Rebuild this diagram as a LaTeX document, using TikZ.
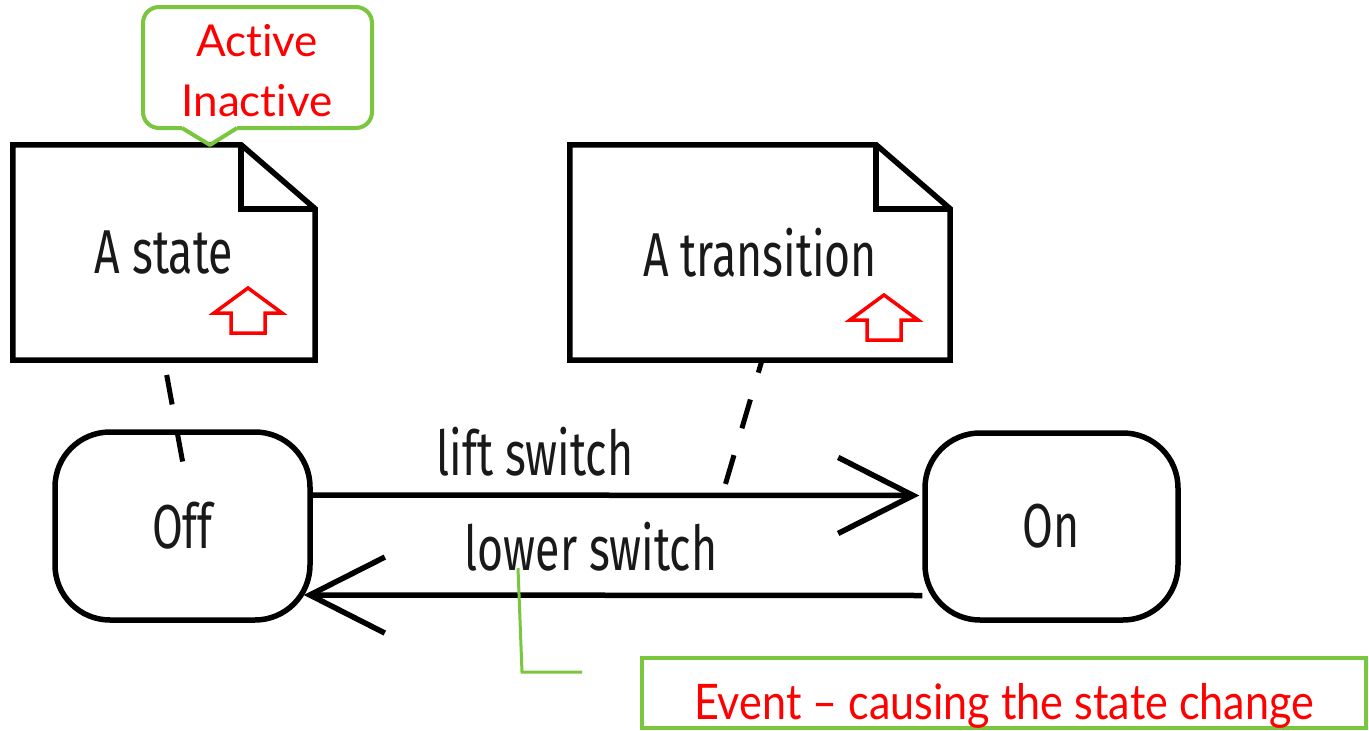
\documentclass[tikz,border=0pt]{standalone}
\usepackage{fontspec}
\usetikzlibrary{arrows.meta}

\newfontfamily\umlfont[FakeStretch=0.72]{Fira Sans}
\newfontfamily\notefont[Ligatures=NoCommon]{Lato}
\newfontfamily\eventfont[Ligatures=NoCommon,FakeStretch=0.88]{Lato}
\definecolor{verde}{RGB}{122,198,62}
\definecolor{rojo}{RGB}{255,0,0}
\definecolor{tinta}{RGB}{25,25,25}

% Hoja con esquina doblada alrededor de un nodo
\newcommand\dogear[1]{%
  \draw[noteline] (#1.south west) -- (#1.north west) -- ([xshift=-74pt]#1.north east)
    -- ([yshift=-64pt]#1.north east) -- (#1.south east) -- cycle;
  \draw[noteline] ([xshift=-74pt]#1.north east) |- ([yshift=-64pt]#1.north east);
}
% Flecha roja hacia arriba (punta en #1,#2)
\newcommand\upmark[2]{%
  \draw[redmark] (#1,#2) -- ++(34,25) -- ++(-17,0) -- ++(0,20) -- ++(-34,0)
    -- ++(0,-20) -- ++(-17,0) -- cycle;
}

\begin{document}
\begin{tikzpicture}[x=1pt,y=-1pt,
  umltext/.style={font=\umlfont\fontsize{62}{62}\selectfont, text=tinta},
  state/.style={draw=black, line width=5.5pt, rounded corners=55pt, umltext},
  notebox/.style={minimum height=215pt, inner sep=0pt, umltext},
  noteline/.style={line width=5.5pt, line join=miter},
  notelink/.style={line width=5pt, dash pattern=on 30pt off 28pt},
  trans/.style={line width=5.5pt, -{Straight Barb[length=75pt,width=76pt]}},
  redmark/.style={draw=rojo, line width=3.5pt},
  callout/.style={draw=verde, line width=4pt, rounded corners=16pt},
  calltext/.style={font=\notefont\fontsize{44}{60}\selectfont, text=rojo, align=center},
  eventbox/.style={draw=verde, line width=4pt, minimum width=724pt, minimum height=70pt,
    text height=52pt, text depth=0pt, font=\eventfont\fontsize{49}{49}\selectfont, text=rojo}]

  \useasboundingbox (0,0) rectangle (1369,731);

  % Estados
  \node[state, minimum width=255pt, minimum height=188pt] (off) at (182.5,526) {Off};
  \node[state, minimum width=253pt, minimum height=187pt] (on) at (1051.5,526.5) {On};

  % Notas
  \node[notebox, minimum width=302pt] (statenote) at (164,252.5) {A state};
  \node[notebox, minimum width=380pt] (transnote) at (760,252.5) {A transition};
  \dogear{statenote}
  \dogear{transnote}
  \upmark{248}{288}
  \upmark{884}{295}

  % Transiciones
  \draw[trans] ([yshift=31pt]off.east) -- ([yshift=31pt,xshift=-3pt]on.west)
    coordinate[pos=0.675] (liftpt);
  \draw[trans] ([yshift=-69pt]on.west) -- ([yshift=-69pt,xshift=-9pt]off.east);
  \node[umltext, anchor=base] (liftlbl) at (535,475) {lift switch};
  \node[umltext, anchor=base] (lowerlbl) at (591,570) {lower switch};

  % Enlaces de las notas
  \draw[notelink, dash phase=43pt] (statenote.south) -- ([xshift=1.5pt,yshift=-40pt]off.north);
  \draw[notelink, dash phase=17pt] ([xshift=2pt]transnote.south) -- (liftpt);

  % Globo Active / Inactive
  \node[calltext] (callout) at (257,71) {Active\\Inactive};
  \draw[callout] (237,128) -- (372,128) -- (372,7) -- (143,7) -- (143,128) -- (182,128);
  \draw[callout, sharp corners, line join=round] (182,128) -- (210,145) -- (237,128);

  % Evento
  \node[eventbox] (event) at (1004,693) {Event – causing the state change};
  \coordinate (leadtop) at (518,568);
  \coordinate (leadend) at (582,672);
  \draw[draw=verde, line width=3pt] (leadtop) -- (522,672) -- (leadend);
\end{tikzpicture}
\end{document}
